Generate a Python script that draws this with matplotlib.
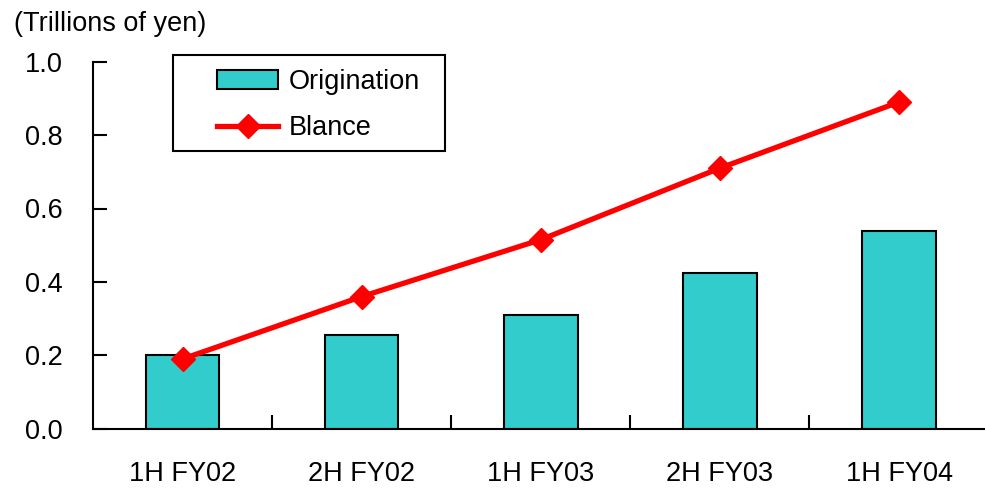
import matplotlib
matplotlib.use("Agg")
import matplotlib.pyplot as plt
from matplotlib.patches import Rectangle
from matplotlib.ticker import FixedLocator

plt.rcParams['font.family'] = ['Liberation Sans', 'DejaVu Sans']

# half-year periods and values (trillions of yen)
periods = ['1H FY02', '2H FY02', '1H FY03', '2H FY03', '1H FY04']
origination = [0.20, 0.255, 0.31, 0.425, 0.54]
balance = [0.19, 0.36, 0.515, 0.71, 0.89]
yticks = [0.0, 0.2, 0.4, 0.6, 0.8, 1.0]

FS = 19.5
W, H = 985, 491
fig = plt.figure(figsize=(W / 100, H / 100), dpi=100)
ax = fig.add_axes([93 / W, 1 - 428.7 / H, (985 - 93) / W, (428.7 - 61.7) / H])

x = list(range(len(periods)))
bars = ax.bar(x, origination, width=0.41, color='#33CCCC', edgecolor='black',
              linewidth=1.5, zorder=2)
line, = ax.plot(x, balance, color='#FF0000', linewidth=3.8, marker='D', markersize=12.5,
                zorder=3)

ax.set_xlim(-0.5, 4.48)
ax.set_ylim(0, 1.0)
ax.set_yticks(yticks)
ax.set_yticklabels([f'{v:.1f}' for v in yticks])
ax.set_xticks(x)
ax.set_xticklabels(periods)
ax.xaxis.set_minor_locator(FixedLocator([0.5, 1.5, 2.5, 3.5]))

for side in ('top', 'right'):
    ax.spines[side].set_visible(False)
for side in ('left', 'bottom'):
    ax.spines[side].set_linewidth(1.5)

ax.tick_params(axis='y', direction='in', length=10, width=1.5, labelsize=FS, pad=22)
ax.tick_params(axis='x', which='major', length=0, labelsize=FS, pad=23)
ax.tick_params(axis='x', which='minor', direction='in', length=10, width=1.5)

fig.text(14 / W, 1 - 24 / H, '(Trillions of yen)', fontsize=FS, va='center', ha='left')

# legend box drawn separately so the padding can differ per side
ax.add_patch(Rectangle((172.7 / W, 1 - 151 / H), (445 - 172.7) / W, 96 / H,
                       transform=fig.transFigure, facecolor='white',
                       edgecolor='black', linewidth=1.5, zorder=4, clip_on=False))
leg = ax.legend([bars, line], ['Origination', 'Blance'],
                loc='upper left', bbox_to_anchor=(212 / W, 1 - 64 / H),
                bbox_transform=fig.transFigure, fontsize=FS, frameon=False,
                handlelength=2.25, handleheight=0.7,
                borderpad=0.2, labelspacing=0.74, handletextpad=0.4,
                borderaxespad=0)
leg.set_zorder(5)

fig.savefig('out.png', dpi=100)
